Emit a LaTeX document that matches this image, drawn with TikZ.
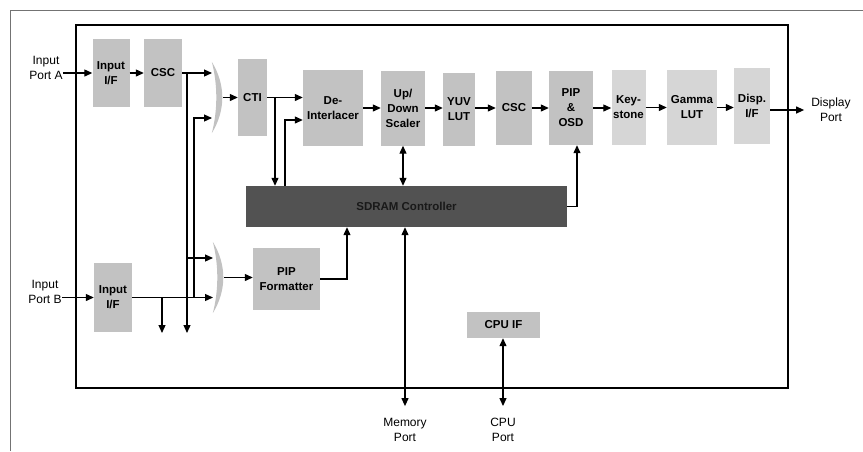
\documentclass[tikz,border=0pt]{standalone}
\usepackage{fontspec}
\setmainfont{Liberation Sans}
\usetikzlibrary{arrows.meta,calc}
\begin{document}
\begin{tikzpicture}[x=1pt,y=-1pt,
  blk/.style 2 args={fill=black!24, inner sep=0pt, align=center,
    minimum width=#1, minimum height=#2,
    font=\bfseries\fontsize{11.5}{15}\selectfont},
  blkl/.style 2 args={blk={#1}{#2}, fill=black!16},
  muxn/.style={inner sep=0pt, minimum width=11, minimum height=71},
  muxfill/.style={fill=black!24},
  sd/.style={fill=black!68, inner sep=0pt, minimum width=321, minimum height=41,
    font=\bfseries\fontsize{11.5}{15}\selectfont, text=black!90},
  lbl/.style={inner sep=0pt, align=center, font=\fontsize{12}{15}\selectfont},
  ln/.style={line width=1.2pt},
  arr/.style={line width=1.2pt, -{Triangle[length=8pt,width=7pt]}},
  darr/.style={line width=1.2pt, {Triangle[length=8pt,width=7pt]}-{Triangle[length=8pt,width=7pt]}}
]
\useasboundingbox (0,0) rectangle (863,451);
% scan frame
\draw[black!55, line width=0.8pt] (10,451) -- (10,10) -- (863,10);
% chip outline
\draw[line width=1.4pt] (76,25) rectangle (788,388);

% blocks
\node[blk={37}{68}] (inA) at (111,73) {Input\\I/F};
\node[blk={38}{68}] (cscA) at (163,73) {CSC};
\node[muxn] (mux1) at (217.5,97.5) {};
\node[blk={29}{77}] (cti) at (252.5,97.5) {CTI};
\node[blk={60}{76}] (deint) at (333,108) {De-\\Interlacer};
\node[blk={44}{75}] (scaler) at (403,108) {Up/\\Down\\Scaler};
\node[blk={32}{73}] (yuv) at (459,109) {YUV\\LUT};
\node[blk={36}{74}] (csc2) at (514,108) {CSC};
\node[blk={44}{74}] (pip) at (571,108) {PIP\\\&\\OSD};
\node[blkl={34}{75}] (key) at (628.5,107.5) {Key-\\stone};
\node[blkl={50}{75}] (gamma) at (692,107.5) {Gamma\\LUT};
\node[blkl={36}{76}] (disp) at (752,106) {Disp.\\I/F};
\node[sd] (sdram) at (406.5,206.5) {SDRAM Controller};
\node[blk={67}{62}] (pipf) at (286.5,279) {PIP\\Formatter};
\node[muxn] (mux2) at (218.5,277.5) {};
\node[blk={38}{69}] (inB) at (113,297.5) {Input\\I/F};
\node[blk={73}{26}] (cpu) at (503.5,325) {CPU IF};

% mux shapes
\foreach \m in {mux1,mux2}{
  \fill[muxfill] (\m.north west) .. controls +(14,23) and +(14,-23) .. (\m.south west)
     .. controls +(6,-23) and +(6,23) .. (\m.north west);
}

% port labels
\node[lbl] (portA) at (46,68) {Input\\Port A};
\node[lbl] (portB) at (45,292) {Input\\Port B};
\node[lbl] (dport) at (831,110) {Display\\Port};
\node[lbl] (mport) at (405,430) {Memory\\Port};
\node[lbl] (cport) at (503,430) {CPU\\Port};

% helper coordinates
\coordinate (m1a) at (212,73);
\coordinate (m1b) at (212,118);
\coordinate (m2a) at (213,258);
\coordinate (m2b) at (213,297.5);
\coordinate (d1) at (187,333);
\coordinate (d2) at (162,333);
\coordinate (j2) at (194,0);
\coordinate (j3) at (275,0);
\coordinate (j4) at (285,0);
\coordinate (r4) at (0,120);
\coordinate (j6) at (577,0);
\coordinate (j7) at (347,0);

% input A path
\draw[arr] (inA.west -| portA.east) -- (inA.west);
\draw[arr] (inA.east) -- (cscA.west);
\draw[arr] (cscA.east) -- (m1a);
\draw[arr] (cscA.east -| d1) -- (d1);
\draw[arr] (d1 |- m2a) -- (m2a);

% input B path
\draw[arr] (inB.west -| portB.east) -- (inB.west);
\draw[arr] (inB.east) -- (m2b);
\draw[arr] (j2 |- inB.east) |- (m1b);
\draw[arr] (d2 |- inB.east) -- (d2);

% mux outputs
\draw[arr] (mux1.east) -- (cti.west);
\draw[arr] (mux2.east) -- (mux2.east -| pipf.west);

% CTI / deinterlacer
\draw[arr] (cti.east) -- (cti.east -| deint.west);
\draw[arr] (j3 |- cti.east) -- (j3 |- sdram.north);
\draw[arr] (j4 |- sdram.north) |- (r4 -| deint.west);

% main chain
\draw[arr] (deint.east) -- (deint.east -| scaler.west);
\draw[arr] (scaler.east) -- (scaler.east -| yuv.west);
\draw[arr] (yuv.east |- csc2.west) -- (csc2.west);
\draw[arr] (csc2.east) -- (csc2.east -| pip.west);
\draw[arr] (pip.east) -- (pip.east -| key.west);
\draw[arr] (key.east) -- (key.east -| gamma.west);
\draw[arr] (gamma.east) -- (gamma.east -| disp.west);
\draw[arr, shorten >=7pt] (disp.east |- dport.west) -- (dport.west);

% memory links
\draw[darr] (scaler.south) -- (scaler.south |- sdram.north);
\draw[arr] (sdram.east) -| (j6 |- pip.south);
\draw[arr] (pipf.east) -| (j7 |- sdram.south);
\draw[darr] (sdram.south -| mport.north) -- ([yshift=12pt]mport.north);
\draw[darr] (cpu.south -| cport.north) -- ([yshift=12pt]cport.north);
\end{tikzpicture}
\end{document}
